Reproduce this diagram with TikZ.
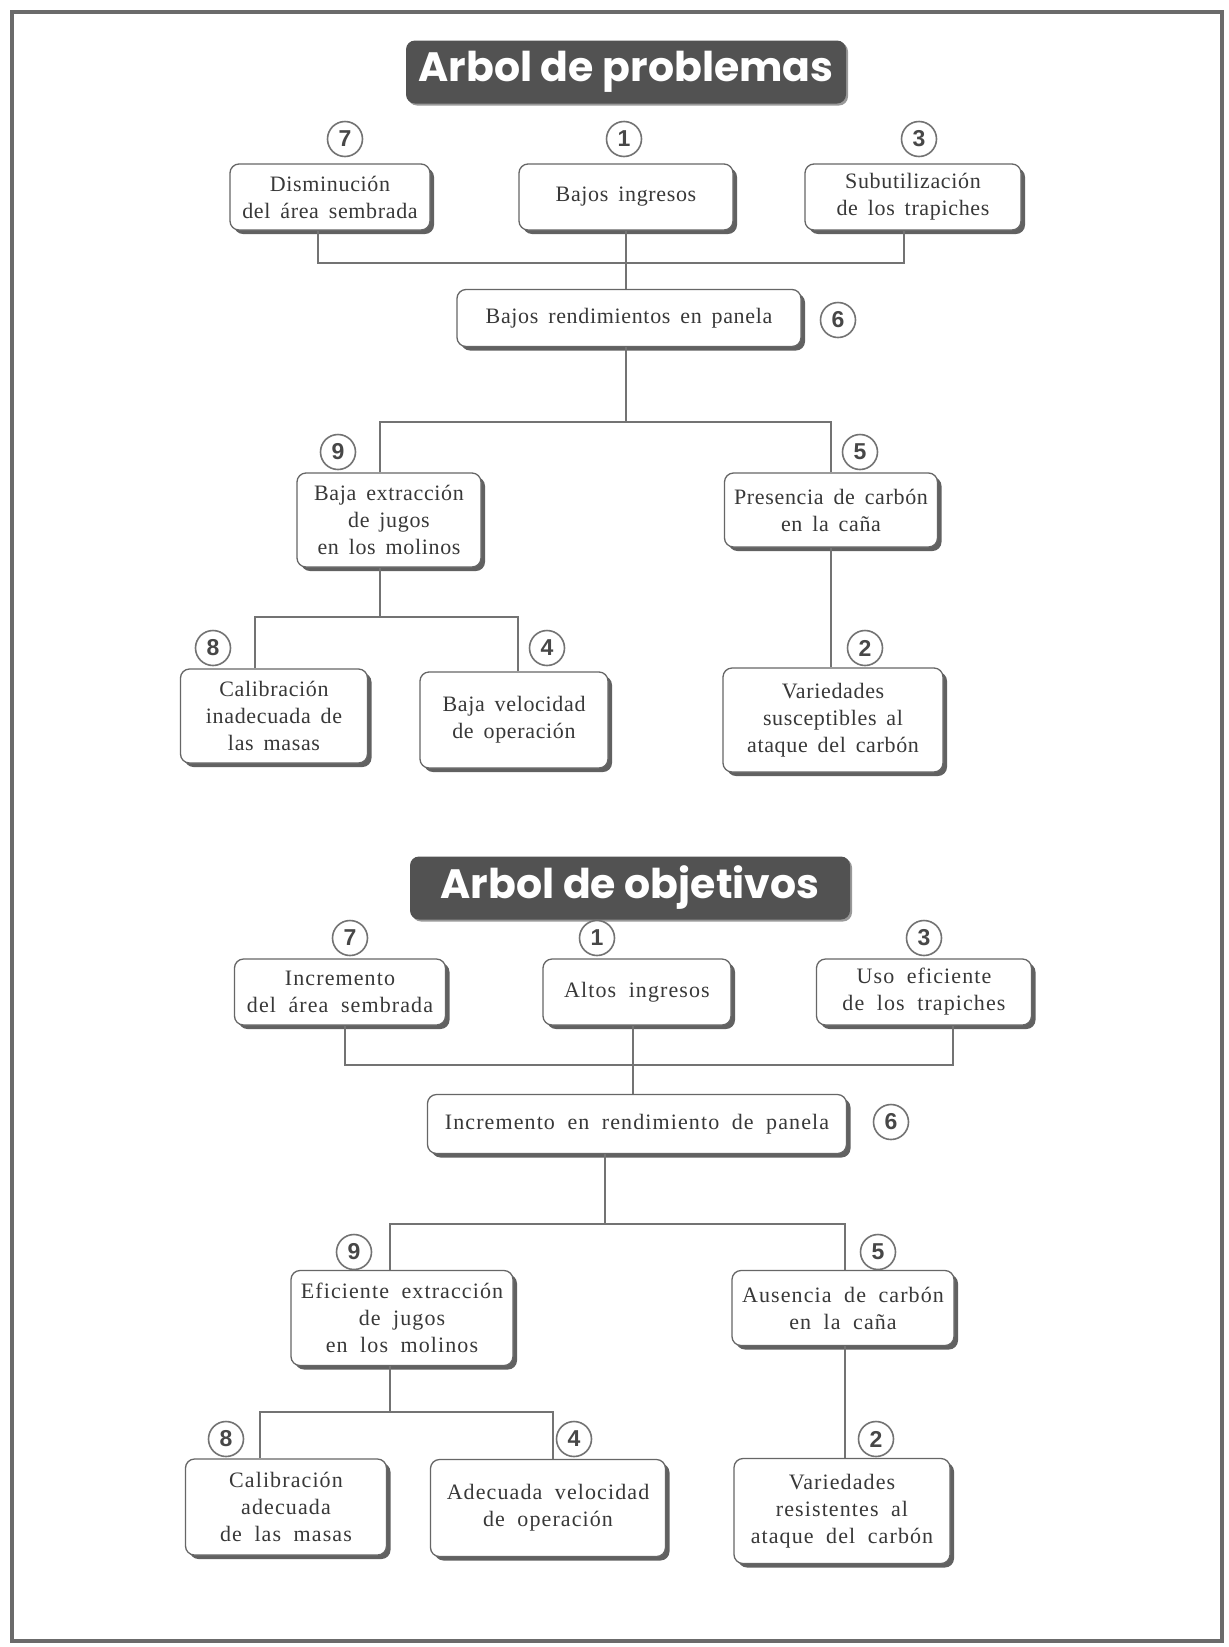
\documentclass[tikz,border=0pt]{standalone}
\usepackage{fontspec}
\setmainfont{Liberation Serif}[WordSpace=1.6,LetterSpace=3]
\newfontfamily\anchafont{Liberation Serif}[WordSpace=1.9,LetterSpace=5]
\newfontfamily\titlefont{Poppins}
\newfontfamily\numfont{Liberation Sans}
\usetikzlibrary{shadows}
\definecolor{marco}{gray}{0.42}
\definecolor{fondotitulo}{gray}{0.32}
\definecolor{tinta}{gray}{0.22}
\definecolor{linea}{gray}{0.45}

\begin{document}
\begin{tikzpicture}[x=1pt,y=-1pt,
    caja/.style={draw=black!60,line width=1.3pt,rounded corners=9pt,fill=white,align=center,
      text=tinta,font=\fontsize{22}{27}\selectfont,inner sep=0pt,
      drop shadow={shadow xshift=4pt,shadow yshift=-4pt,fill=black!62,opacity=1}},
    cajaancha/.style={caja,font=\anchafont\fontsize{22}{27}\selectfont},
    num/.style={circle,draw=black!55,line width=1.6pt,minimum size=35pt,inner sep=0pt,
      fill=white,text=black!72,font=\numfont\bfseries\fontsize{23}{23}\selectfont},
    titulo/.style={fill=fondotitulo,rounded corners=9pt,text=white,minimum width=440pt,
      minimum height=63pt,inner sep=0pt,font=\titlefont\bfseries\fontsize{41}{44}\selectfont,
      drop shadow={shadow xshift=2pt,shadow yshift=-2pt,fill=black!40,opacity=1}},
    rama/.style={draw=linea,line width=1.5pt}]
  \useasboundingbox (0,0) rectangle (1229,1647);
  \draw[marco,line width=4pt] (12,12) rectangle (1222,1641);

  % arbol de problemas
  \node[titulo] (tp) at (626,72) {Arbol de problemas};
  \node[caja,minimum width=200pt,minimum height=66pt] (p7) at (330,197) {Disminución\\del área sembrada};
  \node[caja,minimum width=214pt,minimum height=66pt] (p1) at (626,197) {Bajos ingresos};
  \node[caja,minimum width=216pt,minimum height=66pt] (p3) at (913,197) {Subutilización\\de los trapiches};
  \node[caja,minimum width=344pt,minimum height=57pt] (p6) at (629,318) {Bajos rendimientos en panela};
  \node[caja,minimum width=184pt,minimum height=94pt] (p9) at (389,520) {Baja extracción\\de jugos\\en los molinos};
  \node[caja,minimum width=213pt,minimum height=74pt] (p5) at (831,510) {Presencia de carbón\\en la caña};
  \node[caja,minimum width=187pt,minimum height=94pt] (p8) at (274,716) {Calibración\\inadecuada de\\las masas};
  \node[caja,minimum width=188pt,minimum height=96pt] (p4) at (514,720) {Baja velocidad\\de operación};
  \node[caja,minimum width=220pt,minimum height=104pt] (p2) at (833,720) {Variedades\\susceptibles al\\ataque del carbón};

  \node[num] (np7) at (345,139) {7};
  \node[num] (np1) at (624,139) {1};
  \node[num] (np3) at (919,139) {3};
  \node[num] (np6) at (838,320) {6};
  \node[num] (np9) at (338,452) {9};
  \node[num] (np5) at (860,452) {5};
  \node[num] (np8) at (213,648) {8};
  \node[num] (np4) at (547,648) {4};
  \node[num] (np2) at (865,648) {2};

  \coordinate (jp1) at (626,263);
  \coordinate (jp2) at (626,422);
  \coordinate (jp3) at (380,617);
  \draw[rama] ([xshift=-12pt]p7.south) |- (jp1) -| ([xshift=-9pt]p3.south);
  \draw[rama] (p1.south) -- (p1.south |- p6.north);
  \draw[rama] (p6.south -| jp2) -- (jp2);
  \draw[rama] ([xshift=-9pt]p9.north) |- (jp2) -| (p5.north);
  \draw[rama] (p9.south -| jp3) -- (jp3);
  \draw[rama] ([xshift=-19pt]p8.north) |- (jp3) -| ([xshift=4pt]p4.north);
  \draw[rama] (p5.south) -- (p5.south |- p2.north);

  % arbol de objetivos
  \node[titulo] (to) at (630,888) {Arbol de objetivos};
  \node[cajaancha,minimum width=211pt,minimum height=66pt] (q7) at (340,992) {Incremento\\del área sembrada};
  \node[cajaancha,minimum width=188pt,minimum height=66pt] (q1) at (637,992) {Altos ingresos};
  \node[cajaancha,minimum width=215pt,minimum height=66pt] (q3) at (924,992) {Uso eficiente\\de los trapiches};
  \node[cajaancha,minimum width=419pt,minimum height=59pt] (q6) at (637,1124) {Incremento en rendimiento de panela};
  \node[cajaancha,minimum width=222pt,minimum height=95pt] (q9) at (402,1318) {Eficiente extracción\\de jugos\\en los molinos};
  \node[cajaancha,minimum width=222pt,minimum height=75pt] (q5) at (843,1308) {Ausencia de carbón\\en la caña};
  \node[cajaancha,minimum width=201pt,minimum height=96pt] (q8) at (286,1507) {Calibración\\adecuada\\de las masas};
  \node[cajaancha,minimum width=235pt,minimum height=97pt] (q4) at (548,1508) {Adecuada velocidad\\de operación};
  \node[cajaancha,minimum width=216pt,minimum height=105pt] (q2) at (842,1511) {Variedades\\resistentes al\\ataque del carbón};

  \node[num] (no7) at (350,938) {7};
  \node[num] (no1) at (597,938) {1};
  \node[num] (no3) at (924,938) {3};
  \node[num] (no6) at (891,1122) {6};
  \node[num] (no9) at (354,1252) {9};
  \node[num] (no5) at (878,1252) {5};
  \node[num] (no8) at (226,1439) {8};
  \node[num] (no4) at (574,1439) {4};
  \node[num] (no2) at (876,1439) {2};

  \coordinate (jo1) at (633,1065);
  \coordinate (jo2) at (605,1224);
  \coordinate (jo3) at (390,1412);
  \draw[rama] ([xshift=5pt]q7.south) |- (jo1) -| ([xshift=29pt]q3.south);
  \draw[rama] (q1.south -| jo1) -- (jo1 |- q6.north);
  \draw[rama] (q6.south -| jo2) -- (jo2);
  \draw[rama] ([xshift=-12pt]q9.north) |- (jo2) -| ([xshift=2pt]q5.north);
  \draw[rama] (q9.south -| jo3) -- (jo3);
  \draw[rama] ([xshift=-26pt]q8.north) |- (jo3) -| ([xshift=5pt]q4.north);
  \draw[rama] ([xshift=2pt]q5.south) -- ([xshift=2pt]q5.south |- q2.north);
\end{tikzpicture}
\end{document}
